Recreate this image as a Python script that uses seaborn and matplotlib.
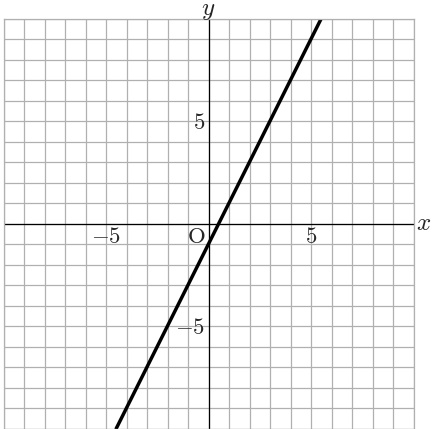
import matplotlib
matplotlib.use("Agg")
import matplotlib.pyplot as plt
import numpy as np
import pandas as pd
import seaborn as sns

# line y = 2x - 1, endpoints read at the grid edges
line_x = [-4.5, 5.5]
line_y = [-10, 10]

tick_vals = [-5, 5]
tick_text = ["$-5$", "$5$"]

sns.set_style("white")
plt.rcParams["mathtext.fontset"] = "cm"

fig = plt.figure(figsize=(4.34, 4.29), dpi=100)
ax = fig.add_axes([3.5 / 434, 0.5 / 429, 410 / 434, 410 / 429])

grid = np.arange(-10, 11)
ax.set_xticks(grid)
ax.set_yticks(grid)
ax.set_xlim(-10, 10)
ax.set_ylim(-10, 10)
ax.grid(True, color="#b0b0b0", lw=0.9)
ax.tick_params(length=0, labelbottom=False, labelleft=False)
for sp in ax.spines.values():
    sp.set_color("#b0b0b0")
    sp.set_linewidth(0.9)

ax.axhline(0, color="black", lw=0.9)
ax.axvline(0, color="black", lw=0.9)

df = pd.DataFrame({"x": line_x, "y": line_y})
sns.lineplot(data=df, x="x", y="y", ax=ax, color="black", lw=2.5)
ax.set_xlabel("")
ax.set_ylabel("")

fs = 16.5
for v, t in zip(tick_vals, tick_text):
    # labels on the x axis, under the line
    ax.text(v, -0.95, t, ha="center", va="baseline", fontsize=fs)
    # labels on the y axis, left of it
    ax.text(-0.17, v - 0.41, t, ha="right", va="baseline", fontsize=fs)
ax.text(-0.6, -0.95, r"$\mathrm{O}$", ha="center", va="baseline", fontsize=fs)
ax.text(10.5, 0, "$x$", ha="center", va="center", fontsize=18, clip_on=False)
ax.text(0, 10.4, "$y$", ha="center", va="center", fontsize=18, clip_on=False)

fig.savefig("out.png", dpi=100)
